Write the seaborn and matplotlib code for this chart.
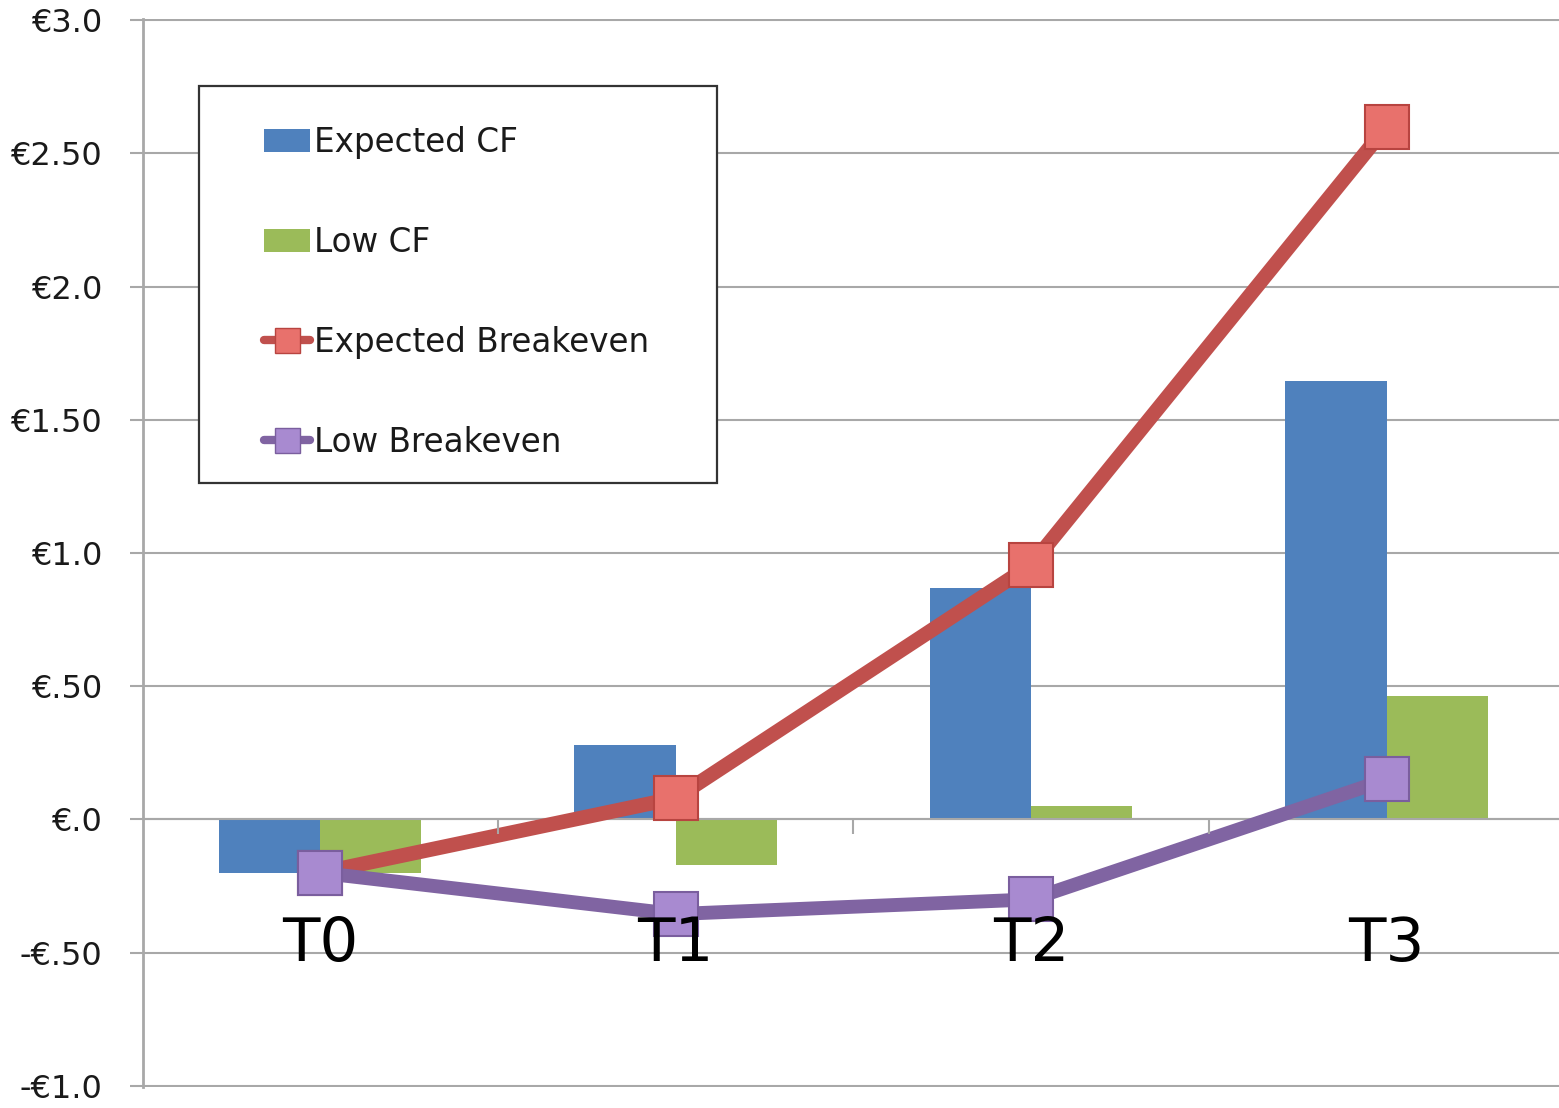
import numpy as np
import pandas as pd
import seaborn as sns
import matplotlib.pyplot as plt
from matplotlib.patches import Patch, Rectangle
from matplotlib.lines import Line2D

# data
periods = ["T0", "T1", "T2", "T3"]
expected_cf = [-0.20, 0.28, 0.87, 1.645]
low_cf = [-0.20, -0.17, 0.05, 0.465]
expected_be = [-0.20, 0.08, 0.955, 2.60]
low_be = [-0.20, -0.355, -0.30, 0.15]

y_ticks = [-1.0, -0.5, 0.0, 0.5, 1.0, 1.5, 2.0, 2.5, 3.0]
y_labels = ["-€1.0", "-€.50", "€.0", "€.50", "€1.0", "€1.50", "€2.0", "€2.50", "€3.0"]

BLUE = "#4F81BD"
GREEN = "#9BBB59"
RED = "#C0504D"
RED_MK = "#E8716C"
PURPLE = "#8064A2"
PURPLE_MK = "#A88AD0"
GRID = "#A8A8A8"

sns.set_style("white")
plt.rcParams["font.family"] = ["DejaVu Sans"]

W, H = 1559, 1108
fig = plt.figure(figsize=(W / 100, H / 100), dpi=100)
ax = fig.add_axes([143 / W, 1 - 1087 / H, (W - 143) / W, (1087 - 19) / H])

bars = pd.DataFrame({
    "period": periods * 2,
    "series": ["Expected CF"] * 4 + ["Low CF"] * 4,
    "value": expected_cf + low_cf,
})
sns.barplot(data=bars, x="period", y="value", hue="series",
            palette=[BLUE, GREEN], width=0.57, gap=0, saturation=1,
            edgecolor="none", linewidth=0, legend=False, ax=ax, zorder=2)

pos = np.arange(len(periods))
sns.lineplot(x=pos, y=expected_be, color=RED, linewidth=10.5, marker="s",
             markersize=32, markerfacecolor=RED_MK, markeredgecolor="#B84440",
             markeredgewidth=1.5, ax=ax, zorder=4)
sns.lineplot(x=pos, y=low_be, color=PURPLE, linewidth=10, marker="s",
             markersize=32, markerfacecolor=PURPLE_MK, markeredgecolor="#7A5E9E",
             markeredgewidth=1.5, ax=ax, zorder=5)

ax.set_xlim(-0.498, 3.485)
ax.set_ylim(-1.004, 3.004)
ax.set_xlabel("")
ax.set_ylabel("")

# y axis
ax.set_yticks(y_ticks)
ax.set_yticklabels(y_labels)
ax.tick_params(axis="y", length=9.5, width=1.5, color=GRID, pad=20,
               labelsize=23, labelcolor="#1a1a1a", left=True)
ax.yaxis.grid(True, color=GRID, linewidth=1.5)
ax.xaxis.grid(False)
ax.set_axisbelow(True)

# x axis sits on zero, category labels hang below it
ax.spines["bottom"].set_position(("data", 0))
ax.spines["bottom"].set_color(GRID)
ax.spines["bottom"].set_linewidth(1.5)
ax.spines["left"].set_color(GRID)
ax.spines["left"].set_linewidth(2)
ax.spines["top"].set_visible(False)
ax.spines["right"].set_visible(False)
ax.set_xticks(pos)
ax.set_xticklabels(periods)
ax.set_xticks([0.5, 1.5, 2.5], minor=True)
ax.tick_params(axis="x", which="major", length=0, pad=69, labelsize=44, labelcolor="black")
ax.tick_params(axis="x", which="minor", length=11, width=1.5, color=GRID, direction="out", bottom=True)
ax.xaxis.set_zorder(6)

# legend box
ax.add_patch(Rectangle((0.0395, 0.5655), 0.3658, 0.3718, transform=ax.transAxes,
                       facecolor="white", edgecolor="#333333", linewidth=1.6, zorder=6))
handles = [
    Patch(facecolor=BLUE, edgecolor="none"),
    Patch(facecolor=GREEN, edgecolor="none"),
    Line2D([], [], color=RED, linewidth=6, marker="s", markersize=18,
           markerfacecolor=RED_MK, markeredgecolor="#B84440"),
    Line2D([], [], color=PURPLE, linewidth=6, marker="s", markersize=18,
           markerfacecolor=PURPLE_MK, markeredgecolor="#7A5E9E"),
]
labels = ["Expected CF", "Low CF", "Expected Breakeven", "Low Breakeven"]
leg = ax.legend(handles, labels, loc="upper left", bbox_to_anchor=(0.0855, 0.900),
                frameon=False, fontsize=23.5, borderpad=0, borderaxespad=0,
                labelspacing=2.05, handlelength=1.42, handletextpad=0.12,
                labelcolor="#1a1a1a")
leg.set_zorder(7)

plt.savefig("out.png", dpi=100)
plt.close()
